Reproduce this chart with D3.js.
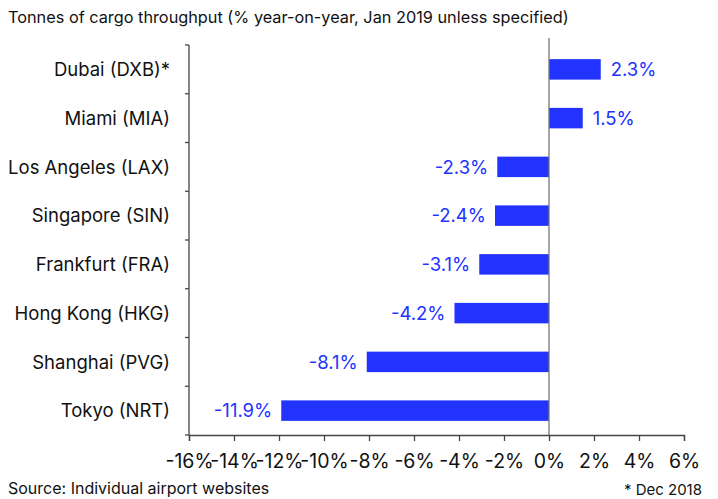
<!DOCTYPE html>
<html>
<head>
<meta charset="utf-8">
<script src="https://cdn.jsdelivr.net/npm/d3@7"></script>
<style>
  body { margin: 0; background: #fff; }
  svg { display: block; font-family: Inter, "Liberation Sans", Arial, sans-serif; }
</style>
</head>
<body>
<div class="graph"></div>
<script>
// airports, top to bottom
const airports = ["Dubai (DXB)*", "Miami (MIA)", "Los Angeles (LAX)", "Singapore (SIN)",
  "Frankfurt (FRA)", "Hong Kong (HKG)", "Shanghai (PVG)", "Tokyo (NRT)"];
const growth = [2.3, 1.5, -2.3, -2.4, -3.1, -4.2, -8.1, -11.9];
const xTicks = [-16, -14, -12, -10, -8, -6, -4, -2, 0, 2, 4, 6];
const title = "Tonnes of cargo throughput (% year-on-year, Jan 2019 unless specified)";
const source = "Source: Individual airport websites";
const footnote = "* Dec 2018";

const width = 718, height = 499;
const svg = d3.select(".graph").append("svg").attr("width", width).attr("height", height);

const x = d3.scaleLinear().domain([-16, 6]).range([189, 684]);
const y = d3.scaleBand().domain(airports).range([45, 435]).paddingInner(0.58).paddingOuter(0.29);
const blue = "#2233ff";

svg.append("text").attr("x", 8).attr("y", 23).attr("font-size", 16.3).attr("fill", "#111").text(title);

// bars
svg.selectAll(".bar").data(growth).join("rect")
  .attr("class", "bar")
  .attr("x", d => x(Math.min(0, d)))
  .attr("width", d => Math.abs(x(d) - x(0)))
  .attr("y", (d, i) => y(airports[i]))
  .attr("height", y.bandwidth())
  .attr("fill", blue);

// value labels
svg.selectAll(".val").data(growth).join("text")
  .attr("class", "val")
  .attr("x", d => d >= 0 ? x(d) + 10 : x(d) - 9)
  .attr("y", (d, i) => y(airports[i]) + y.bandwidth() / 2)
  .attr("dy", "0.36em")
  .attr("text-anchor", d => d >= 0 ? "start" : "end")
  .attr("font-size", 18.5)
  .attr("fill", blue)
  .text(d => d.toFixed(1) + "%");

// zero line
svg.append("line").attr("x1", x(0)).attr("x2", x(0)).attr("y1", 38).attr("y2", 435)
  .attr("stroke", "#777").attr("stroke-width", 1.3);

// left axis with ticks on band edges
const edges = airports.map(a => y(a) - y.step() * y.paddingOuter()).concat([y.range()[1]]);
svg.append("line").attr("x1", x(-16)).attr("x2", x(-16)).attr("y1", edges[0]).attr("y2", 435)
  .attr("stroke", "#444").attr("stroke-width", 1.3);
svg.selectAll(".ytick").data(edges).join("line").attr("class", "ytick")
  .attr("x1", x(-16) - 4).attr("x2", x(-16)).attr("y1", d => d).attr("y2", d => d)
  .attr("stroke", "#444").attr("stroke-width", 1.3);

svg.selectAll(".cat").data(airports).join("text").attr("class", "cat")
  .attr("x", 170).attr("y", d => y(d) + y.bandwidth() / 2).attr("dy", "0.36em")
  .attr("text-anchor", "end").attr("font-size", 18.5).attr("fill", "#111").text(d => d);

// bottom axis
const xAxis = svg.append("g").attr("transform", "translate(0,435)")
  .call(d3.axisBottom(x).tickValues(xTicks).tickSize(6).tickFormat(d => d + "%"));
xAxis.select(".domain").attr("stroke", "#444").attr("stroke-width", 1.3);
xAxis.selectAll(".tick line").attr("stroke", "#444").attr("stroke-width", 1.3);
xAxis.selectAll(".tick text").attr("font-size", 19.5).attr("font-family", "Inter, Liberation Sans, Arial, sans-serif")
  .attr("fill", "#111").attr("y", 19);

svg.append("text").attr("x", 8).attr("y", 494).attr("font-size", 16).attr("fill", "#111").text(source);
svg.append("text").attr("x", 702).attr("y", 495).attr("text-anchor", "end").attr("font-size", 15).attr("fill", "#111").text(footnote);
</script>
</body>
</html>
